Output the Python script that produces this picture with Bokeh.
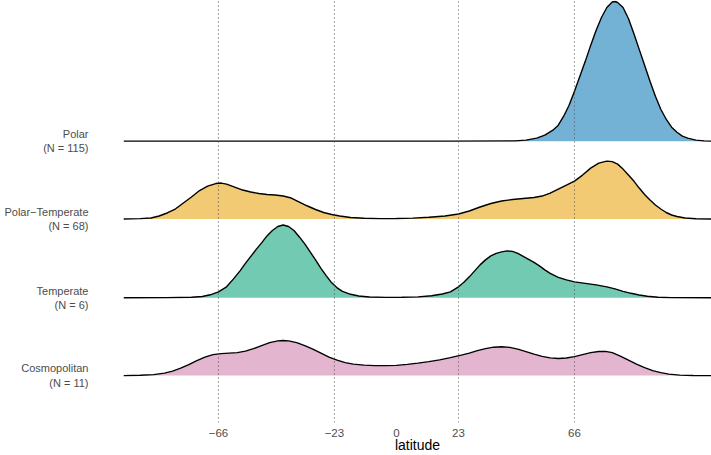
from bokeh.plotting import figure
from bokeh.models import Range1d, FixedTicker
from bokeh.embed import file_html
from bokeh.resources import INLINE

# ---- data ----
groups = ["Polar", "Polar\u2212Temperate", "Temperate", "Cosmopolitan"]
counts = [115, 68, 6, 11]
colors = ["#0072B2", "#E69F00", "#009E73", "#CC79A7"]

polar_lat = [-101.2, 20, 44, 48, 52, 55, 58, 60, 62, 64, 66, 68, 70, 72, 74, 76, 78, 80, 81, 82,
             84, 86, 88, 90, 92, 94, 96, 98, 100, 102, 104, 106, 108, 111, 114, 116.8]
polar_h = [0, 0, 0.3, 1, 3, 6, 11, 16, 25, 36, 50, 65, 80, 96, 111, 124, 134, 139.5, 140, 139,
           134, 123, 108, 92, 76, 60, 45, 32, 22, 14, 9, 5, 3, 1, 0.3, 0]

pt_lat = [-101.2, -95, -91, -88, -85, -82, -79, -76, -73, -70, -67, -65, -63, -60, -57, -54, -51,
          -48, -45, -42, -39, -36, -33, -30, -27, -24, -21, -17, -12, -6, 0, 6, 12, 18, 23, 27,
          31, 35, 39, 43, 47, 51, 54, 57, 60, 63, 66, 69, 72, 75, 78, 80, 82, 84, 86, 88, 90,
          92, 94, 96, 98, 100, 102, 104, 107, 111, 116.8]
pt_h = [0, 0.4, 1, 3, 6, 10, 16, 22, 28.5, 33, 35.5, 36, 35, 32, 29, 27, 25.5,
        24.5, 24, 23, 21, 17, 13, 9.5, 6.5, 4.5, 3, 1.5, 0.7, 0.4, 0.5, 0.9, 1.7, 3, 5, 8,
        12, 15.5, 18, 19.5, 20.5, 21.5, 23, 26, 30, 34, 38, 44, 51, 56, 58, 57.5, 55, 50, 44, 38, 31,
        24.5, 19, 14, 10, 6.5, 4, 2.5, 1, 0.3, 0]

temp_lat = [-101.2, -85, -76, -72, -69, -66, -63, -60.4, -58, -56, -54, -52, -50, -48, -46, -44,
            -42, -40, -38, -36, -34, -32, -30, -28, -26, -24, -22, -20, -17, -14, -10, -4, 2, 8,
            13, 17, 20, 23, 25, 27, 29, 31, 33, 35, 37, 39, 41, 43, 45, 47, 49, 51, 53, 55, 57,
            60, 63, 66, 70, 74, 78, 81, 84, 87, 90, 93, 97, 102, 116.8]
temp_h = [0, 0.2, 0.6, 1.3, 3, 6, 11, 19, 27, 34.5, 41.5, 48.5, 55, 62, 67.5, 71.5,
          73, 71.5, 67.5, 61, 54, 46, 38, 29.5, 22, 15, 10, 6.5, 3.5, 1.8, 0.8, 0.4, 0.5, 0.9,
          2, 3.8, 6, 11, 15.5, 21, 27, 33, 38, 42, 44.5, 46, 47, 46.5, 44.5, 41.5, 38.5, 35.5, 32, 28, 24.5,
          20.5, 18, 16, 14.5, 13, 11, 9, 6.5, 4.5, 2.8, 1.5, 0.6, 0.2, 0]

cosmo_lat = [-101.2, -95, -90, -86, -83, -80, -77, -74, -71, -68, -65, -62, -59, -56, -53, -50,
             -47, -44, -42, -40, -37, -34, -31, -28, -25, -22, -19, -16, -12, -8, -4, 0, 4, 8,
             12, 16, 20, 24, 27, 30, 33, 36, 39, 42, 45, 48, 51, 54, 57, 60, 63, 66, 69, 72, 75,
             77.5, 80, 83, 86, 89, 92, 95, 98, 101, 105, 110, 116.8]
cosmo_h = [0, 0.3, 1, 2.5, 4.5, 7.5, 11, 15, 18.5, 21, 22, 22.5, 23, 24.5, 27, 30,
           33, 34.8, 35.2, 34.8, 33, 30, 26.5, 22.5, 18.5, 15.5, 13, 11.5, 10.5, 10, 10, 10.3, 11.3, 12.5,
           14, 15.8, 18, 20.5, 22.5, 25, 27, 28.5, 29, 28.3, 26.5, 24, 21.5, 19.3, 17.8, 17.2, 17.7, 19, 21, 23, 24.2,
           24.3, 23, 19.5, 15.5, 11.5, 8, 5, 3, 1.5, 0.5, 0.1, 0]

lats = [polar_lat, pt_lat, temp_lat, cosmo_lat]
heights = [polar_h, pt_h, temp_h, cosmo_h]

x_ticks = [-66, -23, 0, 23, 66]
ref_lines = [-66, -23, 23, 66]

# ---- layout ----
FONT = "Liberation Sans"
SPACING = 78.3
BOTTOM = 47
Y_TOP = 423

p = figure(width=711, height=455, output_backend="svg", toolbar_location=None,
           x_range=Range1d(-101.2, 116.8), y_range=Range1d(0, Y_TOP),
           min_border_left=123, min_border_right=0, min_border_top=0, min_border_bottom=32)
p.outline_line_color = None
p.xgrid.visible = False
p.ygrid.visible = False
p.background_fill_color = "white"
p.border_fill_color = "white"

n = len(groups)
bases = [int(round(BOTTOM + (n - 1 - k) * SPACING)) for k in range(n)]

for k in range(n):
    b = bases[k]
    top = [b + h for h in heights[k]]
    p.varea(x=lats[k], y1=[b] * len(top), y2=top, fill_color=colors[k], fill_alpha=0.55)
    p.line(x=lats[k], y=top, line_color="black", line_width=1.4)

p.segment(x0=ref_lines, y0=[0] * len(ref_lines), x1=ref_lines, y1=[Y_TOP] * len(ref_lines),
          line_color="#555555", line_dash="1 3", line_width=1.1)

# y axis with group labels
p.yaxis.ticker = FixedTicker(ticks=bases)
p.yaxis.major_label_overrides = {bases[k]: f"{groups[k]}\n(N = {counts[k]})" for k in range(n)}
p.yaxis.axis_line_color = None
p.yaxis.major_tick_line_color = None
p.yaxis.minor_tick_line_color = None
p.yaxis.major_tick_out = 0
p.yaxis.major_tick_in = 0
p.yaxis.major_label_standoff = 35
p.yaxis.major_label_text_font = FONT
p.yaxis.major_label_text_font_size = "11px"
p.yaxis.major_label_text_color = "#4d4d4d"

# x axis
p.xaxis.ticker = FixedTicker(ticks=x_ticks)
p.xaxis.major_label_overrides = {t: (f"\u2212{abs(t)}" if t < 0 else str(t)) for t in x_ticks}
p.xaxis.axis_line_color = None
p.xaxis.major_tick_line_color = None
p.xaxis.minor_tick_line_color = None
p.xaxis.major_tick_out = 0
p.xaxis.major_tick_in = 0
p.xaxis.major_label_standoff = 6
p.xaxis.major_label_text_font = FONT
p.xaxis.major_label_text_font_size = "11.5px"
p.xaxis.major_label_text_color = "#4d4d4d"
p.xaxis.axis_label = "latitude"
p.xaxis.axis_label_standoff = -3
p.xaxis.axis_label_text_font = FONT
p.xaxis.axis_label_text_font_size = "14px"
p.xaxis.axis_label_text_font_style = "normal"
p.xaxis.axis_label_text_color = "black"

open("out.html", "w").write(file_html(p, INLINE))
